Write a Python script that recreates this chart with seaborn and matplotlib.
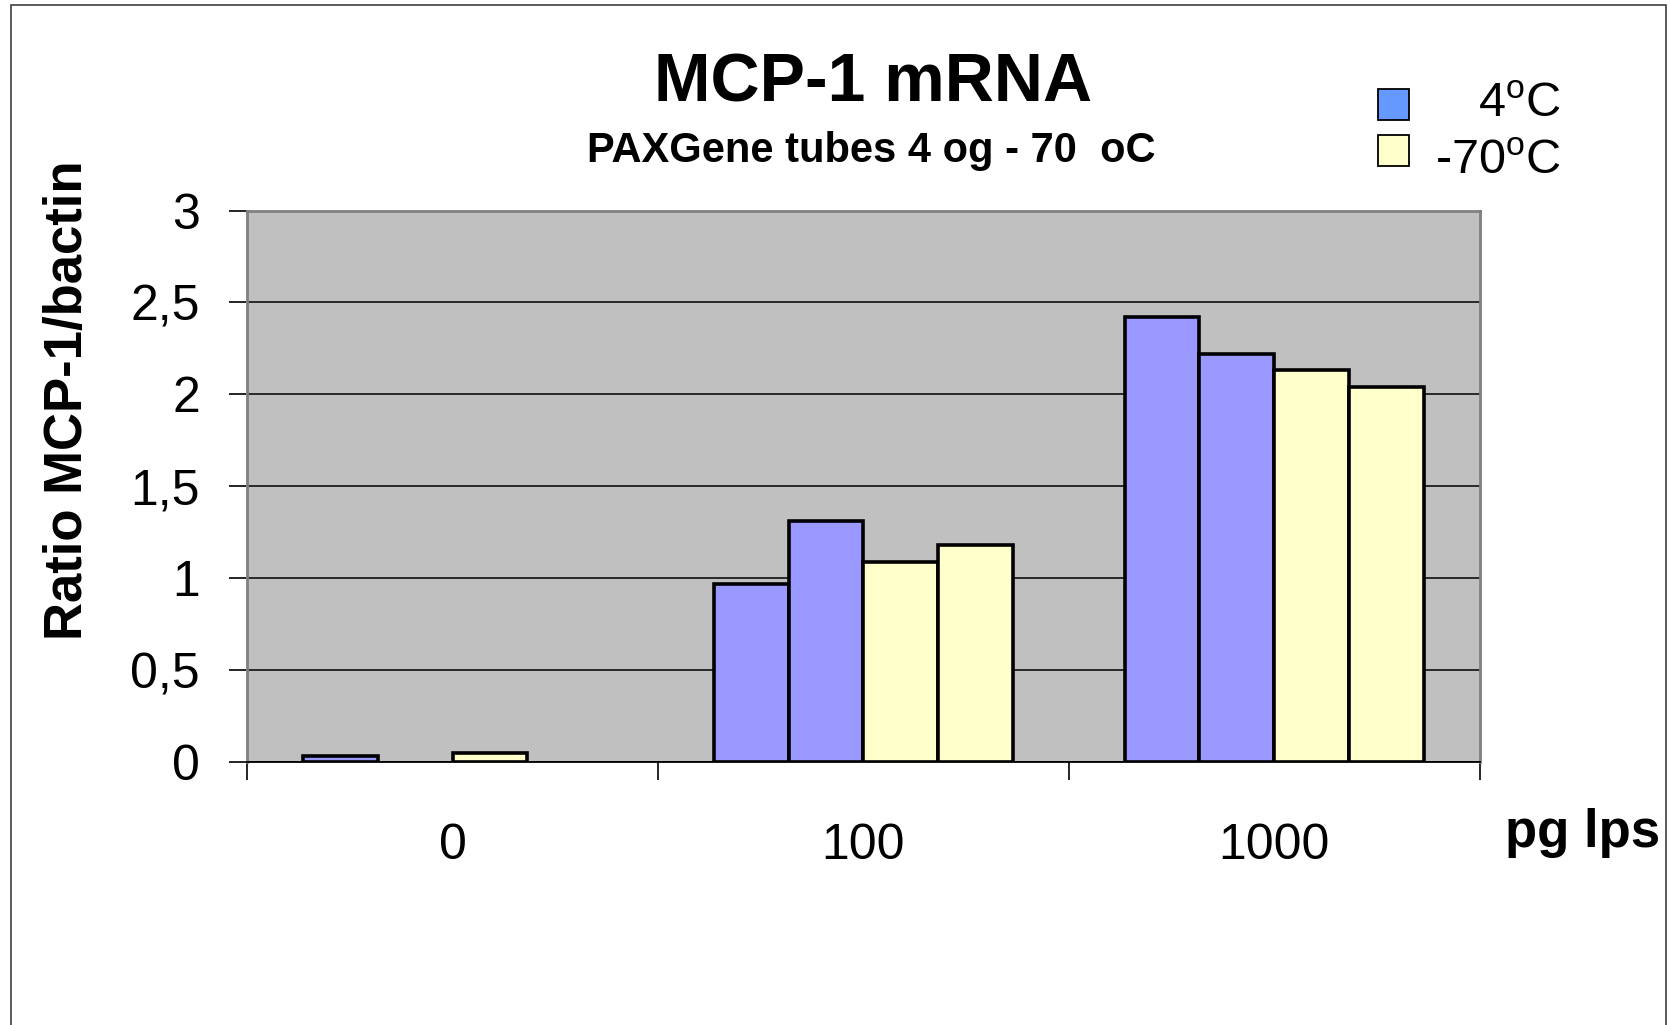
import numpy as np
import pandas as pd
import matplotlib
matplotlib.use("Agg")
import matplotlib.pyplot as plt
import seaborn as sns
from matplotlib.patches import Rectangle

# ---------------- data ----------------
groups = ["0", "100", "1000"]
series = ["4oC a", "4oC b", "-70oC a", "-70oC b"]
vals_4a = [0.03, 0.97, 2.42]
vals_4b = [np.nan, 1.31, 2.22]
vals_70a = [0.05, 1.09, 2.13]
vals_70b = [np.nan, 1.18, 2.04]
ytick_vals = [0, 0.5, 1, 1.5, 2, 2.5, 3]
ytick_labels = ["0", "0,5", "1", "1,5", "2", "2,5", "3"]
legend_labels = ["4$^{\\mathrm{o}}$C", "-70$^{\\mathrm{o}}$C"]
title = "MCP-1 mRNA"
subtitle = "PAXGene tubes 4 og - 70  oC"
ylabel = "Ratio MCP-1/bactin"
xlabel = "pg lps"

bar_colors = {"4oC a": "#9999FF", "4oC b": "#9999FF",
              "-70oC a": "#FFFFCC", "-70oC b": "#FFFFCC"}
legend_colors = ["#6699FF", "#FFFFCC"]

rows = []
for s, vals in zip(series, [vals_4a, vals_4b, vals_70a, vals_70b]):
    for g, v in zip(groups, vals):
        rows.append({"group": g, "series": s, "value": v})
df = pd.DataFrame(rows).dropna()

# ---------------- style ----------------
sns.set_theme(style="white")
plt.rcParams["font.family"] = ["Liberation Sans", "DejaVu Sans"]
plt.rcParams["mathtext.fontset"] = "custom"
plt.rcParams["mathtext.rm"] = "Liberation Sans"
plt.rcParams["mathtext.it"] = "Liberation Sans:italic"
plt.rcParams["mathtext.bf"] = "Liberation Sans:bold"
for k in ["text.color", "axes.labelcolor", "xtick.color", "ytick.color"]:
    plt.rcParams[k] = "black"

fig = plt.figure(figsize=(16.7, 10.25), dpi=100)
ax = fig.add_axes([0.148, 0.2566, 0.738, 0.538])
ax.set_facecolor("#C0C0C0")

sns.barplot(data=df, x="group", y="value", hue="series", order=groups,
            hue_order=series, palette=bar_colors, width=0.728, gap=0,
            errorbar=None, edgecolor="black", linewidth=2.6, saturation=1,
            legend=False, ax=ax, zorder=3)

ax.set_xlim(-0.5, 2.5)
ax.set_ylim(0, 3)

# y axis
ax.set_yticks(ytick_vals)
ax.set_yticklabels(ytick_labels, fontsize=36)
ax.tick_params(axis="y", direction="out", length=13, width=1.2, color="black",
               pad=21, left=True)
ax.yaxis.grid(True, color="black", linewidth=1.1)
ax.set_axisbelow(True)

# x axis: boundary ticks, centered labels
ax.set_xticks([-0.5, 0.5, 1.5, 2.5])
ax.set_xticklabels([])
ax.set_xticks([0, 1, 2], minor=True)
ax.set_xticklabels(groups, minor=True, fontsize=36)
ax.tick_params(axis="x", which="major", direction="out", length=13, width=1.2,
               color="black", bottom=True)
ax.tick_params(axis="x", which="minor", length=0, pad=44)

ax.set_xlabel("")
ax.set_ylabel("")

for side in ["top", "right", "left"]:
    ax.spines[side].set_color("#808080")
    ax.spines[side].set_linewidth(2.0)
ax.spines["bottom"].set_color("black")
ax.spines["bottom"].set_linewidth(1.3)

# ---------------- texts ----------------
fig.text(0.523, 0.901, title, ha="center", va="baseline", fontsize=49,
         fontweight="bold")
fig.text(0.522, 0.842, subtitle, ha="center", va="baseline", fontsize=30,
         fontweight="bold")
fig.text(0.0407, 0.61, ylabel, ha="center", va="center", rotation=90,
         fontsize=38, fontweight="bold")
fig.text(0.901, 0.174, xlabel, ha="left", va="baseline", fontsize=38,
         fontweight="bold")

# legend (manual)
leg_y = [0.883, 0.838]
txt_y = [0.886, 0.830]
for c, lab, yb, yt in zip(legend_colors, legend_labels, leg_y, txt_y):
    fig.patches.append(Rectangle((0.825, yb), 0.0186, 0.0302,
                                 transform=fig.transFigure, facecolor=c,
                                 edgecolor="black", linewidth=1.3))
    fig.text(0.935, yt, lab, ha="right", va="baseline", fontsize=35)

# outer frame
fig.patches.append(Rectangle((0.0066, -0.05), 0.991, 1.045,
                             transform=fig.transFigure, fill=False,
                             edgecolor="#404040", linewidth=1.2))

fig.savefig("out.png", dpi=100)
